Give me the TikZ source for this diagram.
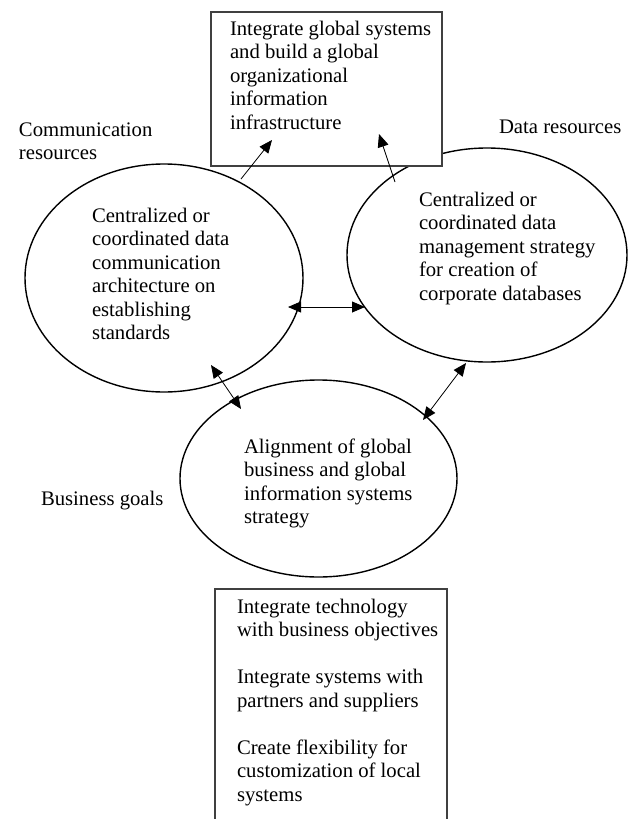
\documentclass[tikz,border=0pt]{standalone}
\usepackage{fontspec}
\setmainfont{Liberation Serif}
\usetikzlibrary{shapes.geometric,arrows.meta}
\begin{document}
\begin{tikzpicture}[x=1pt,y=-1pt,
  txt/.style={anchor=base west, inner sep=0pt, outer sep=0pt, align=left, font=\fontsize{20.7}{23.5}\selectfont},
  oval/.style={draw, ellipse, line width=1.4pt, inner sep=0pt, outer sep=0pt},
  boxst/.style={draw=black!75, line width=1.1pt, fill=white, inner sep=0pt, outer sep=0pt, anchor=north west},
  tip/.tip={Triangle[length=13pt,width=11pt]},
  arr/.style={line width=0.8pt, -tip},
  darr/.style={line width=0.8pt, tip-tip}]
\useasboundingbox (0,0) rectangle (629,819);
\clip (0,0) rectangle (629,819);
% ellipses
\node[oval, minimum width=278pt, minimum height=228pt] (L) at (164,278) {};
\node[oval, minimum width=280pt, minimum height=214pt] (R) at (487,255) {};
\node[oval, minimum width=277pt, minimum height=197pt] (B) at (318.5,478.5) {};
% boxes
\node[boxst, minimum width=231pt, minimum height=154pt] (T) at (211,12) {};
\node[boxst, minimum width=232pt, minimum height=250pt] (BB) at (215,589) {};
% texts (anchored at the baseline of their last line)
\node[txt] (tT) at (230,129) {Integrate global systems\\and build a global\\organizational\\information\\infrastructure};
\node[txt] (lc) at (19,159.5) {Communication\\resources};
\node[txt] (ld) at (499,133) {Data resources};
\node[txt] (lb) at (41,505) {Business goals};
\node[txt] (tL) at (92,339.5) {Centralized or\\coordinated data\\communication\\architecture on\\establishing\\standards};
\node[txt] (tR) at (419,300) {Centralized or\\coordinated data\\management strategy\\for creation of\\corporate databases};
\node[txt] (tB) at (244,523.5) {Alignment of global\\business and global\\information systems\\strategy};
\node[txt] (tBB) at (237,801) {Integrate technology\\with business objectives\\[23.5pt]Integrate systems with\\partners and suppliers\\[23.5pt]Create flexibility for\\customization of local\\systems};
% connector ends
\coordinate (a1s) at (241,179); \coordinate (a1e) at (272,140);
\coordinate (a2s) at (395,182); \coordinate (a2e) at (379,134);
\coordinate (hL) at (288,307);  \coordinate (hR) at (365,307);
\coordinate (d1a) at (211,365); \coordinate (d1b) at (241,409);
\coordinate (d2a) at (466,363); \coordinate (d2b) at (423,420);
\draw[arr] (a1s) -- (a1e);
\draw[arr] (a2s) -- (a2e);
\draw[darr] (hL) -- (hR);
\draw[darr] (d1a) -- (d1b);
\draw[darr] (d2a) -- (d2b);
\end{tikzpicture}
\end{document}
